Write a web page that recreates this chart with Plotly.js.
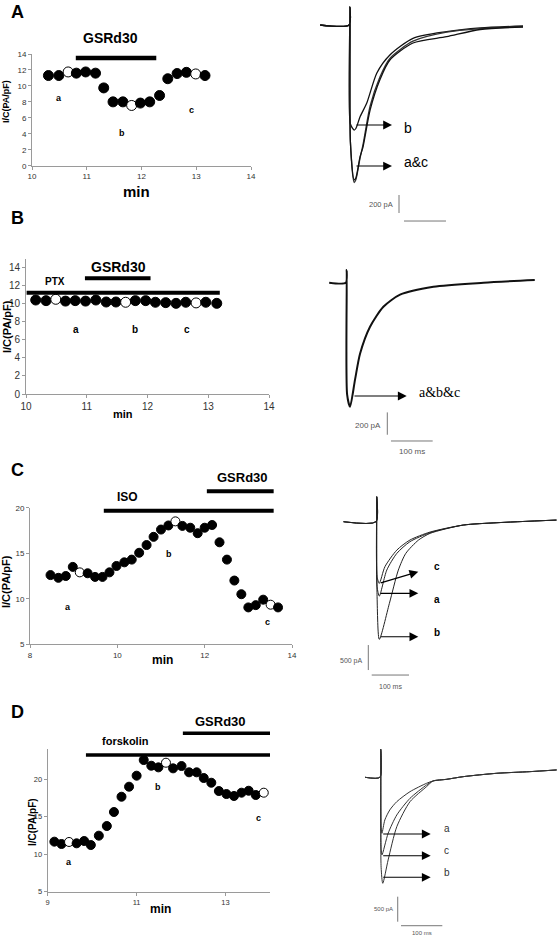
<!DOCTYPE html>
<html><head><meta charset="utf-8">
<script src="https://cdn.plot.ly/plotly-3.0.1.min.js"></script>
<style>html,body{margin:0;padding:0;background:#fff}#chart{width:557px;height:935px}</style>
</head><body><div id="chart"></div>
<script>
// ---------------- Panel A : I/C time course ----------------
const A_min  = [10.30,10.49,10.66,10.81,10.98,11.16,11.31,11.48,11.66,11.82,11.98,12.15,12.33,12.48,12.65,12.82,12.99,13.16];
const A_val  = [11.3,11.3,11.75,11.6,11.75,11.6,9.75,8.0,8.0,7.55,7.85,8.0,8.8,10.9,11.55,11.7,11.5,11.3];
const A_open = [0,0,1,0,0,0,0,0,0,1,0,0,0,0,0,0,1,0];
const A_GSRd30 = [10.80, 12.27];
const A_lblText = ['a','b','c'];
const A_lblMin  = [10.50, 11.65, 12.91];
const A_lblVal  = [8.45, 4.14, 6.98];
// Panel A currents (ms, pA)
const A_a_ms = [-71,-2,0,1,10,14,24,31,48,71,95,150,230,310,412];
const A_a_pA = [0,0,200,-1300,-1720,-1700,-1463,-1356,-944,-611,-389,-200,-130,-50,-22];
const A_b_ms = [-71,-2,0,1,10,14,24,40,64,95,150,230,310,412];
const A_b_pA = [0,0,200,-1100,-1167,-1150,-1020,-867,-533,-333,-148,-74,-33,-11];
const A_c_ms = [-71,-2,0,1,10,14,24,31,48,71,95,150,230,310,412];
const A_c_pA = [0,0,200,-1300,-1750,-1720,-1480,-1330,-900,-580,-370,-180,-80,-40,-18];

// ---------------- Panel B ----------------
const B_min  = [9.98,10.16,10.33,10.49,10.65,10.81,10.98,11.15,11.32,11.48,11.64,11.80,11.97,12.13,12.30,12.47,12.63,12.80,12.96,13.14];
const B_val  = [10.23,10.42,10.35,10.5,10.3,10.35,10.3,10.42,10.2,10.2,10.17,10.35,10.35,10.17,10.13,10.05,10.17,10.1,10.17,10.05];
const B_open = [0,0,0,1,0,0,0,0,0,0,1,0,0,0,0,0,0,1,0,0];
const B_PTX = [10.01, 13.19];
const B_GSRd30 = [10.97, 12.05];
const B_lblText = ['a','b','c'];
const B_lblMin  = [10.82, 11.79, 12.65];
const B_lblVal  = [7.1, 7.1, 7.1];
const B_abc_ms = [-42,-2,0,1,8,20,32,56,88,128,208,328,451];
const B_abc_pA = [0,0,114,-1000,-1110,-868,-636,-394,-215,-107,-36,0,24];

// ---------------- Panel C ----------------
const C_min  = [8.47,8.65,8.82,8.98,9.14,9.32,9.49,9.66,9.82,9.98,10.16,10.33,10.50,10.67,10.83,11.00,11.17,11.33,11.49,11.67,11.84,12.00,12.17,12.34,12.51,12.68,12.84,13.00,13.17,13.34,13.51,13.68];
const C_val  = [12.6,12.3,12.5,13.5,12.9,12.8,12.4,12.4,12.9,13.6,14.0,14.3,15.05,15.9,16.8,17.6,18.05,18.5,18.0,17.8,17.2,17.8,18.1,16.2,14.3,12.0,10.5,9.05,9.3,9.9,9.35,9.05];
const C_open = [0,0,0,0,1,0,0,0,0,0,0,0,0,0,0,0,0,1,0,0,0,0,0,0,0,0,0,0,0,0,1,0];
const C_ISO = [9.69, 13.58];
const C_GSRd30 = [12.05, 13.58];
const C_lblText = ['a','b','c'];
const C_lblMin  = [8.87, 11.18, 13.45];
const C_lblVal  = [9.1, 14.9, 7.45];
const C_a_ms = [-89,-2,0,1,7,27,54,89,143,232,322,482];
const C_a_pA = [0,0,500,-1300,-1487,-967,-633,-400,-220,-67,-20,33];
const C_b_ms = [-89,-2,0,1,7,34,58,78,112,143,232,322,482];
const C_b_pA = [0,0,500,-1500,-2353,-1633,-967,-633,-367,-233,-67,-20,33];
const C_c_ms = [-89,-2,0,1,7,22,54,89,143,232,322,482];
const C_c_pA = [0,0,500,-1100,-1233,-900,-567,-367,-207,-67,-20,33];

// ---------------- Panel D ----------------
const D_min  = [8.98,9.15,9.31,9.48,9.65,9.82,9.97,10.15,10.33,10.49,10.66,10.83,11.00,11.16,11.33,11.49,11.66,11.82,12.01,12.18,12.35,12.51,12.68,12.85,13.02,13.19,13.36,13.52,13.68,13.86,14.03];
const D_val  = [11.14,11.68,11.37,11.64,11.46,11.77,11.23,12.48,13.77,15.64,17.68,19.02,20.49,22.58,21.82,21.6,22.22,21.47,21.78,20.94,20.94,20.18,19.55,18.44,18.04,17.78,18.22,18.48,17.91,18.22,17.91];
const D_open = [0,0,0,1,0,0,0,0,0,0,0,0,0,0,0,0,1,0,0,0,0,0,0,0,0,0,0,0,0,1,0];
const D_forskolin = [9.86, 14.0];
const D_GSRd30 = [12.04, 14.0];
const D_lblText = ['a','b','c'];
const D_lblMin  = [9.48, 11.49, 13.73];
const D_lblVal  = [9.0, 18.94, 14.9];
const D_a_ms = [-38,-2,0,1,3,10,22,39,71,111,127,160,200,281,361,426];
const D_a_pA = [0,0,560,-1000,-1120,-853,-653,-487,-287,-120,-73,-40,13,80,113,147];
const D_c_ms = [-38,-2,0,1,3,18,39,71,111,127,160,200,281,361,426];
const D_c_pA = [0,0,560,-1400,-1553,-1120,-753,-420,-153,-73,-40,13,80,113,147];
const D_b_ms = [-38,-2,0,1,5,18,39,71,111,127,160,200,281,361,426];
const D_b_pA = [0,0,560,-1800,-2120,-1653,-987,-487,-187,-73,-40,13,80,113,147];

// ---------------- helpers ----------------
const SANS = 'Liberation Sans, Arial, sans-serif';
const SERIF = 'Liberation Serif, Times New Roman, serif';
const W = 557, H = 935;
const px = v => v / W, py = v => 1 - v / H;

function sAx(dom, range, dtick, tick0, fs) {
  return {domain: dom, range: range, tickmode: 'linear', dtick: dtick, tick0: tick0,
    showline: true, linecolor: '#9a9a9a', linewidth: 1, ticks: 'outside', ticklen: 3,
    tickcolor: '#9a9a9a', tickfont: {family: SANS, size: fs, color: '#333'},
    showgrid: false, zeroline: false, fixedrange: true};
}
function hAx(dom, range) {
  return {domain: dom, range: range, visible: false, showgrid: false, zeroline: false, fixedrange: true};
}
function pts(x, y, open, xa, ya, size) {
  return {type: 'scatter', mode: 'markers', x: x, y: y, xaxis: xa, yaxis: ya,
    marker: {size: size, color: open.map(o => o ? '#fff' : '#000'), line: {color: '#000', width: 1}},
    hoverinfo: 'skip', showlegend: false, cliponaxis: false};
}
function cur(t, I, xa, ya, w, col) {
  return {type: 'scatter', mode: 'lines', x: t, y: I, xaxis: xa, yaxis: ya,
    line: {color: col, width: w, shape: 'spline', smoothing: 0.7}, hoverinfo: 'skip', showlegend: false};
}
const shapes = [], annotations = [];
function bar(xr, xa, ya, yfrac, w) {
  shapes.push({type: 'line', xref: xa, yref: ya + ' domain', x0: xr[0], x1: xr[1], y0: yfrac, y1: yfrac,
    line: {color: '#000', width: w}});
}
function txt(text, x, y, xref, yref, size, opts) {
  annotations.push(Object.assign({text: text, x: x, y: y, xref: xref, yref: yref, showarrow: false,
    font: {family: SANS, size: size, color: '#000'}, xanchor: 'center', yanchor: 'middle'}, opts || {}));
}
function arrow(t0, t1, I0, I1, xa, ya) {
  annotations.push({text: '', x: t1, y: I1, ax: t0, ay: I0, xref: xa, yref: ya, axref: xa, ayref: ya,
    showarrow: true, arrowhead: 2, arrowsize: 1.6, arrowwidth: 1.1, arrowcolor: '#000', standoff: 0, startstandoff: 0});
}
function scaleBar(xa, ya, tV, I0, pA, tH0, IH, ms, lblV, lblH, fs) {
  shapes.push({type: 'line', xref: xa, yref: ya, x0: tV, x1: tV, y0: I0, y1: I0 - pA, line: {color: '#777', width: 1}});
  shapes.push({type: 'line', xref: xa, yref: ya, x0: tH0, x1: tH0 + ms, y0: IH, y1: IH, line: {color: '#777', width: 1}});
  txt(pA + ' pA', lblV[0], lblV[1], xa, ya, fs, {xanchor: 'right', font: {family: SANS, size: fs, color: '#555'}});
  txt(ms + ' ms', lblH[0], lblH[1], xa, ya, fs, {font: {family: SANS, size: fs, color: '#555'}});
}

// ---------------- traces ----------------
const data = [
  pts(A_min, A_val, A_open, 'x', 'y', 10),
  cur(A_b_ms, A_b_pA, 'x2', 'y2', 1.3, '#111'),
  cur(A_c_ms, A_c_pA, 'x2', 'y2', 1.3, '#333'),
  cur(A_a_ms, A_a_pA, 'x2', 'y2', 1.3, '#111'),
  pts(B_min, B_val, B_open, 'x3', 'y3', 10),
  cur(B_abc_ms, B_abc_pA, 'x4', 'y4', 2, '#111'),
  pts(C_min, C_val, C_open, 'x5', 'y5', 9),
  cur(C_a_ms, C_a_pA, 'x6', 'y6', 1, '#222'),
  cur(C_b_ms, C_b_pA, 'x6', 'y6', 1, '#222'),
  cur(C_c_ms, C_c_pA, 'x6', 'y6', 1, '#222'),
  pts(D_min, D_val, D_open, 'x7', 'y7', 9),
  cur(D_a_ms, D_a_pA, 'x8', 'y8', 1, '#333'),
  cur(D_c_ms, D_c_pA, 'x8', 'y8', 1, '#333'),
  cur(D_b_ms, D_b_pA, 'x8', 'y8', 1, '#333')
];

const BOLD18 = {family: SANS, size: 18, color: '#000', weight: 'bold'};
// ---------------- panel A decorations ----------------
txt('A', px(17), py(12), 'paper', 'paper', 18, {font: BOLD18});
bar(A_GSRd30, 'x', 'y', 0.964, 4.5);
txt('<b>GSRd30</b>', 11.43, 1.143, 'x', 'y domain', 14);
A_lblText.forEach((s, i) => txt('<b>' + s + '</b>', A_lblMin[i], A_lblVal[i], 'x', 'y', 9));
txt('<b>min</b>', px(136), py(192), 'paper', 'paper', 15);
txt('<b>I/C(PA/pF)</b>', px(6), py(102), 'paper', 'paper', 9, {textangle: -90});
arrow(11.9, 100, -1111, -1111, 'x2', 'y2');
arrow(11.9, 100, -1567, -1567, 'x2', 'y2');
txt('b', 123, -1148, 'x2', 'y2', 14, {xanchor: 'left'});
txt('a&c', 123, -1520, 'x2', 'y2', 14, {xanchor: 'left'});
scaleBar('x2', 'y2', 116.7, -1889, 200, 128.6, -2178, 100, [107, -1989], [178.6, -2278], 7.5);

// ---------------- panel B decorations ----------------
txt('B', px(17), py(218), 'paper', 'paper', 18, {font: BOLD18});
bar(B_GSRd30, 'x3', 'y3', 0.855, 4);
bar(B_PTX, 'x3', 'y3', 0.749, 4);
txt('<b>GSRd30</b>', 11.53, 0.941, 'x3', 'y3 domain', 14);
txt('<b>PTX</b>', 10.48, 0.83, 'x3', 'y3 domain', 10);
B_lblText.forEach((s, i) => txt('<b>' + s + '</b>', B_lblMin[i], B_lblVal[i], 'x3', 'y3', 10));
txt('<b>min</b>', px(123), py(414), 'paper', 'paper', 11);
txt('<b>I/C(PA/pF)</b>', px(7), py(327), 'paper', 'paper', 11, {textangle: -90});
arrow(15.1, 143.9, -1014, -1014, 'x4', 'y4');
txt('a&b&c', 167.9, -985, 'x4', 'y4', 14, {xanchor: 'left', font: {family: SERIF, size: 14, color: '#000'}});
scaleBar('x4', 'y4', 97.4, -1161, 200, 106.2, -1417, 100, [87, -1280], [156.2, -1513], 8);

// ---------------- panel C decorations ----------------
txt('C', px(17), py(470), 'paper', 'paper', 18, {font: BOLD18});
bar(C_ISO, 'x5', 'y5', 0.978, 4);
bar(C_GSRd30, 'x5', 'y5', 1.12, 4);
txt('<b>ISO</b>', 10.24, 1.078, 'x5', 'y5 domain', 12);
txt('<b>GSRd30</b>', 12.87, 1.224, 'x5', 'y5 domain', 13);
C_lblText.forEach((s, i) => txt('<b>' + s + '</b>', C_lblMin[i], C_lblVal[i], 'x5', 'y5', 9));
txt('<b>min</b>', px(162), py(660), 'paper', 'paper', 12);
txt('<b>I/C(PA/pF)</b>', px(6), py(582), 'paper', 'paper', 11, {textangle: -90});
arrow(7, 111.5, -1232, -1000, 'x6', 'y6');
arrow(7, 111.5, -1432, -1432, 'x6', 'y6');
arrow(7, 111.5, -2300, -2300, 'x6', 'y6');
txt('<b>c</b>', 147.5, -900, 'x6', 'y6', 10, {xanchor: 'left'});
txt('<b>a</b>', 147.5, -1552, 'x6', 'y6', 10, {xanchor: 'left'});
txt('<b>b</b>', 147.5, -2212, 'x6', 'y6', 10, {xanchor: 'left'});
scaleBar('x6', 'y6', -22.5, -2466, 500, -13.4, -3066, 100, [-31.4, -2786], [36.6, -3286], 7);

// ---------------- panel D decorations ----------------
txt('D', px(17), py(712), 'paper', 'paper', 18, {font: BOLD18});
bar(D_forskolin, 'x7', 'y7', 0.961, 3.5);
bar(D_GSRd30, 'x7', 'y7', 1.113, 3.5);
txt('<b>forskolin</b>', 10.74, 1.059, 'x7', 'y7 domain', 11);
txt('<b>GSRd30</b>', 12.89, 1.193, 'x7', 'y7 domain', 13);
D_lblText.forEach((s, i) => txt('<b>' + s + '</b>', D_lblMin[i], D_lblVal[i], 'x7', 'y7', 9));
txt('<b>min</b>', px(160), py(909), 'paper', 'paper', 12);
txt('<b>I/C(PA/pF)</b>', px(32), py(822), 'paper', 'paper', 10, {textangle: -90});
arrow(2.4, 121, -1134, -1134, 'x8', 'y8');
arrow(2.4, 121, -1568, -1568, 'x8', 'y8');
arrow(2.4, 121, -2000, -2000, 'x8', 'y8');
const D_lblFont = {family: SANS, size: 10, color: '#333'};
txt('a', 147.7, -1034, 'x8', 'y8', 10, {xanchor: 'left', font: D_lblFont});
txt('c', 147.7, -1468, 'x8', 'y8', 10, {xanchor: 'left', font: D_lblFont});
txt('b', 147.7, -1908, 'x8', 'y8', 10, {xanchor: 'left', font: D_lblFont});
scaleBar('x8', 'y8', 41.2, -2388, 500, 49.2, -2968, 100, [34.6, -2640], [99.2, -3108], 6);

// ---------------- layout ----------------
const layout = {
  width: W, height: H, margin: {l: 0, r: 0, t: 0, b: 0},
  paper_bgcolor: '#fff', plot_bgcolor: 'rgba(0,0,0,0)', showlegend: false,
  font: {family: SANS, color: '#000'},
  xaxis:  sAx([px(32), px(251)], [10, 14], 1, 10, 8),
  yaxis:  sAx([1 - 165.7 / H, 1 - 54 / H], [0, 14], 2, 0, 8),
  xaxis2: hAx([0.5, 1], [-170.2, 492.9]),
  yaxis2: hAx([0.76, 1], [-2215.6, 277.8]),
  xaxis3: sAx([px(26), px(269)], [10, 14], 1, 10, 10),
  yaxis3: sAx([1 - 394 / H, 1 - 258.7 / H], [0, 15], 2, 0, 10),
  xaxis4: hAx([0.5, 1], [-163.5, 504.3]),
  yaxis4: hAx([0.508, 0.7433], [-1587.3, 382.3]),
  xaxis5: sAx([px(30), px(292)], [8, 14], 2, 8, 8),
  yaxis5: sAx([1 - 644.3 / H, 1 - 507.7 / H], [5, 20], 5, 5, 8),
  xaxis6: hAx([0.5, 1], [-263.3, 483.4]),
  yaxis6: hAx([0.2513, 0.4973], [-3566, 1034]),
  xaxis7: sAx([px(47.7), px(270)], [9, 14], 2, 9, 7.5),
  yaxis7: sAx([1 - 891.7 / H, 1 - 749.4 / H], [5, 24], 5, 5, 7.5),
  xaxis8: hAx([0.5, 1], [-247.5, 426.9]),
  yaxis8: hAx([0, 0.2353], [-3154, 1246]),
  shapes: shapes, annotations: annotations
};
['yaxis', 'yaxis3', 'yaxis5', 'yaxis7'].forEach((k, i) => { layout[k].anchor = ['x', 'x3', 'x5', 'x7'][i]; });
['xaxis', 'xaxis3', 'xaxis5', 'xaxis7'].forEach((k, i) => { layout[k].anchor = ['y', 'y3', 'y5', 'y7'][i]; });
['yaxis2', 'yaxis4', 'yaxis6', 'yaxis8'].forEach((k, i) => { layout[k].anchor = ['x2', 'x4', 'x6', 'x8'][i]; });
['xaxis2', 'xaxis4', 'xaxis6', 'xaxis8'].forEach((k, i) => { layout[k].anchor = ['y2', 'y4', 'y6', 'y8'][i]; });

Plotly.newPlot('chart', data, layout, {staticPlot: true, displayModeBar: false});
</script></body></html>
